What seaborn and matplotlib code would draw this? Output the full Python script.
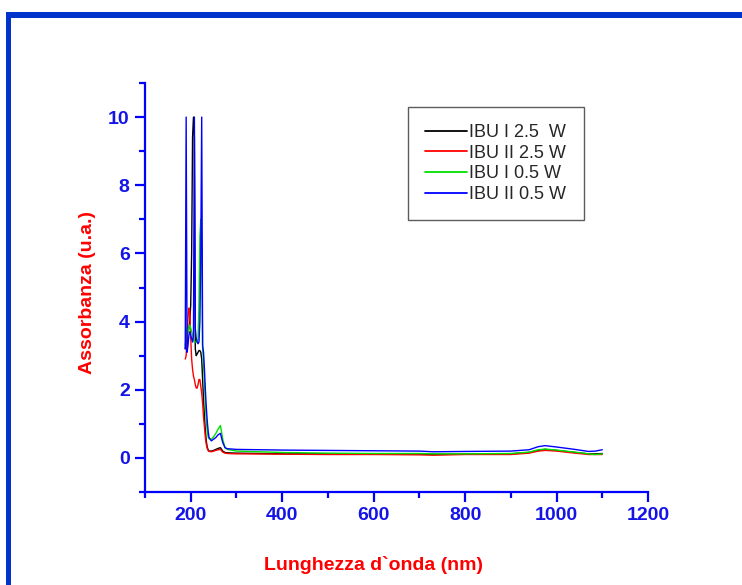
import matplotlib
matplotlib.use("Agg")
import matplotlib.pyplot as plt
from matplotlib.patches import Rectangle
from matplotlib.ticker import MultipleLocator
import seaborn as sns
import pandas as pd

# ---------------- data ----------------
wavelength = [188, 190, 192, 194, 196, 198, 200, 202, 204, 206, 208, 210, 212, 214,
              216, 218, 220, 222, 224, 226, 228, 230, 232, 234, 236, 238, 240,
              245, 250, 255, 260, 265, 270, 275, 280,
              300, 400, 500, 600, 700, 730, 800, 900, 940, 960, 975, 1000,
              1040, 1070, 1085, 1100]

ibu1_25 = [3.2, 3.4, 3.6, 3.7, 3.8, 4.0, 4.5, 6.0, 9.4, 10.0, 9.4, 3.2, 3.0, 3.05,
           3.1, 3.15, 3.15, 3.1, 2.9, 2.3, 1.7, 1.2, 0.8, 0.5, 0.32, 0.24, 0.2,
           0.2, 0.22, 0.25, 0.28, 0.3, 0.2, 0.16, 0.15,
           0.14, 0.12, 0.12, 0.11, 0.11, 0.1, 0.11, 0.12, 0.16, 0.22, 0.25, 0.22,
           0.16, 0.12, 0.12, 0.13]

ibu2_25 = [2.9, 3.0, 3.6, 4.1, 4.4, 4.3, 3.5, 2.9, 2.6, 2.4, 2.3, 2.15, 2.05, 2.05,
           2.15, 2.3, 2.3, 2.1, 1.9, 1.6, 1.2, 0.9, 0.6, 0.4, 0.28, 0.22, 0.19,
           0.18, 0.2, 0.22, 0.24, 0.25, 0.17, 0.14, 0.13,
           0.12, 0.11, 0.1, 0.1, 0.09, 0.08, 0.1, 0.1, 0.14, 0.2, 0.22, 0.2,
           0.14, 0.1, 0.1, 0.1]

ibu1_05 = [3.3, 3.6, 3.8, 3.7, 3.8, 3.9, 3.8, 3.7, 3.6, 3.5, 3.4, 3.4, 3.4, 3.4,
           3.5, 4.5, 6.5, 7.0, 6.0, 3.2, 2.8, 2.2, 1.6, 1.1, 0.8, 0.62, 0.56,
           0.55, 0.62, 0.72, 0.85, 0.95, 0.55, 0.3, 0.25,
           0.2, 0.16, 0.14, 0.13, 0.13, 0.12, 0.12, 0.13, 0.17, 0.24, 0.26, 0.23,
           0.17, 0.12, 0.1, 0.12]

ibu2_05 = [3.2, 10.0, 3.1, 3.3, 3.6, 3.7, 3.6, 3.5, 3.4, 3.6, 10.0, 3.8, 3.5, 3.4,
           3.35, 3.4, 4.0, 6.0, 10.0, 3.3, 3.1, 2.6, 2.0, 1.5, 1.1, 0.8, 0.6,
           0.5, 0.55, 0.6, 0.68, 0.72, 0.45, 0.3, 0.27,
           0.25, 0.23, 0.22, 0.21, 0.2, 0.18, 0.19, 0.2, 0.24, 0.33, 0.36, 0.32,
           0.25, 0.19, 0.2, 0.24]

series_names = ["IBU I 2.5  W", "IBU II 2.5 W", "IBU I 0.5 W", "IBU II 0.5 W"]
series_values = [ibu1_25, ibu2_25, ibu1_05, ibu2_05]
series_colors = ["#000000", "#FF0000", "#00E000", "#0000FF"]

x_ticks = [200, 400, 600, 800, 1000, 1200]
y_ticks = [0, 2, 4, 6, 8, 10]
x_label = "Lunghezza d`onda (nm)"
y_label = "Assorbanza (u.a.)"

# ---------------- figure ----------------
sns.set_style("ticks")
plt.rcParams['font.family'] = ['Liberation Sans', 'DejaVu Sans']

rows = []
for name, vals in zip(series_names, series_values):
    for w, v in zip(wavelength, vals):
        rows.append({"wl": w, "abs": v, "serie": name})
df = pd.DataFrame(rows)

W, H = 742, 585
fig = plt.figure(figsize=(W / 100, H / 100), dpi=100)
fig.patch.set_facecolor("white")
ax = fig.add_axes([145 / W, 1 - 492 / H, (648 - 145) / W, (492 - 83) / H])
ax.set_facecolor("white")

sns.lineplot(data=df, x="wl", y="abs", hue="serie", hue_order=series_names,
             palette=series_colors, estimator=None, sort=False, linewidth=1.0,
             ax=ax)

ax.set_xlim(100, 1200)
ax.set_ylim(-1, 11)
ax.set_xticks(x_ticks)
ax.set_yticks(y_ticks)
ax.xaxis.set_minor_locator(MultipleLocator(100))
ax.yaxis.set_minor_locator(MultipleLocator(1))

axis_blue = "#0000FF"
for s in ["top", "right"]:
    ax.spines[s].set_visible(False)
for s in ["left", "bottom"]:
    ax.spines[s].set_color(axis_blue)
    ax.spines[s].set_linewidth(1.6)
ax.tick_params(which="major", direction="out", length=7, width=1.6,
               color=axis_blue, labelcolor="#1414E6", pad=4)
ax.tick_params(which="minor", direction="out", length=4.5, width=1.6,
               color=axis_blue)
tick_font = ['Liberation Sans', 'DejaVu Sans']
for lab in ax.get_xticklabels() + ax.get_yticklabels():
    lab.set_fontfamily(tick_font)
    lab.set_fontweight("bold")
    lab.set_fontsize(14)
ax.set_xlabel("")
ax.set_ylabel("")

fig.text(373 / W, 1 - 565 / H, x_label, color="#FF0000", fontweight="bold",
         fontsize=14, family=tick_font, ha="center", va="center")
fig.text(88 / W, 1 - 293 / H, y_label, color="#FF0000", fontweight="bold",
         fontsize=14, family=tick_font, ha="center", va="center", rotation=90)

# legend
handles, labels = ax.get_legend_handles_labels()
leg = ax.legend(handles, labels, loc="upper left",
                bbox_to_anchor=(408 / W, 1 - 107 / H),
                bbox_transform=fig.transFigure,
                frameon=True, fancybox=False, shadow=False,
                fontsize=13, handlelength=2.3, handletextpad=0.15,
                labelspacing=0.2, borderpad=0.95, borderaxespad=0)
leg.get_frame().set_edgecolor("#333333")
leg.get_frame().set_linewidth(1.0)
for t in leg.get_texts():
    t.set_family(['Liberation Sans', 'DejaVu Sans'])
for l in leg.get_lines():
    l.set_linewidth(1.3)

# blue frame of the slide
frame_blue = "#0033CC"
fig.add_artist(Rectangle((6 / W, 0), 5 / W, 1 - 12 / H, transform=fig.transFigure,
                         facecolor=frame_blue, edgecolor="none"))
fig.add_artist(Rectangle((6 / W, 1 - 18 / H), 1 - 6 / W, 6 / H,
                         transform=fig.transFigure,
                         facecolor=frame_blue, edgecolor="none"))

fig.savefig("out.png", dpi=100, facecolor="white")
